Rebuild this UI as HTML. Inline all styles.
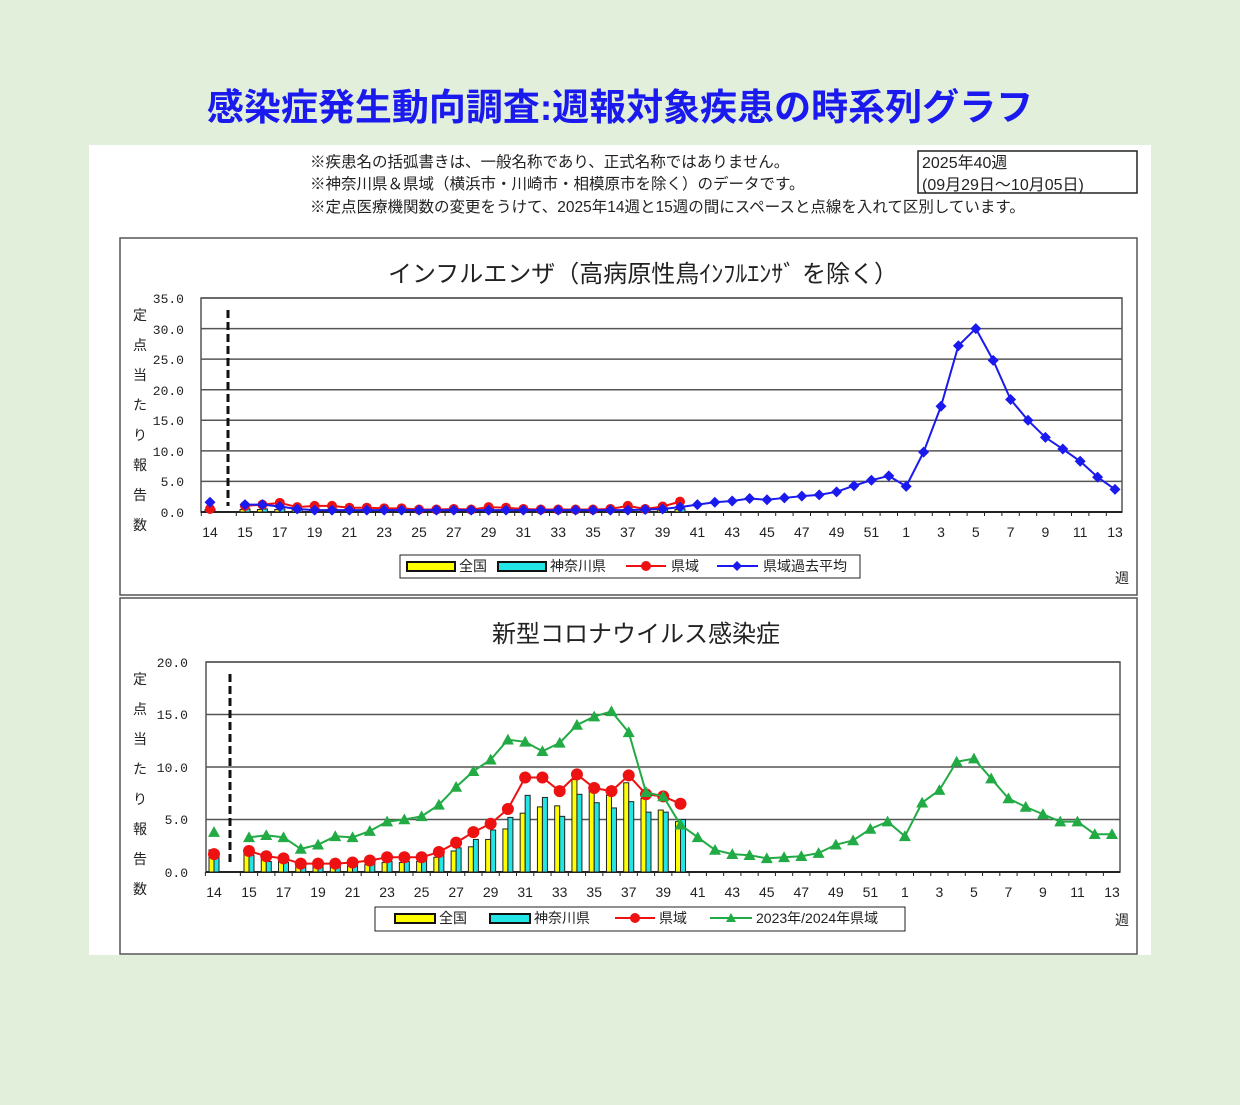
<!DOCTYPE html>
<html><head><meta charset="utf-8">
<style>
body{margin:0;width:1240px;height:1105px;background:#e2efda;font-family:"Liberation Sans","Noto Sans CJK JP",sans-serif;overflow:hidden}
svg{position:absolute;left:0;top:0}
</style></head><body>
<svg id="s" width="1240" height="1105" xmlns="http://www.w3.org/2000/svg" font-family="'Liberation Sans','Noto Sans CJK JP',sans-serif">
<text x="620" y="120" text-anchor="middle" font-size="37" font-weight="bold" fill="#1a1aee">感染症発生動向調査:週報対象疾患の時系列グラフ</text>
<rect x="89" y="145" width="1062" height="810" fill="#fff"/>
<g font-size="15.5" fill="#222">
<text x="310" y="167">※疾患名の括弧書きは、一般名称であり、正式名称ではありません。</text>
<text x="310" y="189">※神奈川県＆県域（横浜市・川崎市・相模原市を除く）のデータです。</text>
<text x="310" y="212">※定点医療機関数の変更をうけて、2025年14週と15週の間にスペースと点線を入れて区別しています。</text>
<text x="922" y="168" font-size="16">2025年40週</text>
<text x="922" y="190" font-size="16">(09月29日〜10月05日)</text>
</g>
<rect x="918" y="151" width="219" height="42" fill="none" stroke="#222" stroke-width="1.5"/>
<rect x="120" y="238" width="1017" height="357" fill="#fff" stroke="#555" stroke-width="1.5"/>
<rect x="120" y="598" width="1017" height="356" fill="#fff" stroke="#555" stroke-width="1.5"/>
<text x="643" y="282" text-anchor="middle" font-size="24" fill="#222">インフルエンザ（高病原性鳥ｲﾝﾌﾙｴﾝｻﾞ を除く）</text>
<text x="636" y="642" text-anchor="middle" font-size="24" fill="#222">新型コロナウイルス感染症</text>
<g font-size="14" fill="#222" text-anchor="middle">
<text x="140" y="320">定</text><text x="140" y="350">点</text><text x="140" y="380">当</text><text x="140" y="410">た</text><text x="140" y="440">り</text><text x="140" y="470">報</text><text x="140" y="500">告</text><text x="140" y="530">数</text>
<text x="140" y="684">定</text><text x="140" y="714">点</text><text x="140" y="744">当</text><text x="140" y="774">た</text><text x="140" y="804">り</text><text x="140" y="834">報</text><text x="140" y="864">告</text><text x="140" y="894">数</text>
<text x="1122" y="583">週</text><text x="1122" y="925">週</text>
</g>
<g font-size="13" fill="#222" text-anchor="end" font-family="'Liberation Mono',monospace">
<text x="184" y="303">35.0</text><text x="184" y="334">30.0</text><text x="184" y="364">25.0</text><text x="184" y="395">20.0</text><text x="184" y="425">15.0</text><text x="184" y="456">10.0</text><text x="184" y="486">5.0</text><text x="184" y="517">0.0</text>
<text x="188" y="667">20.0</text><text x="188" y="719">15.0</text><text x="188" y="772">10.0</text><text x="188" y="824">5.0</text><text x="188" y="877">0.0</text>
</g>
<g id="c1"></g><g id="c2"></g>
<g font-size="14" fill="#222">
<text x="459" y="571">全国</text><text x="550" y="571">神奈川県</text><text x="671" y="571">県域</text><text x="763" y="571">県域過去平均</text>
<text x="439" y="923">全国</text><text x="534" y="923">神奈川県</text><text x="659" y="923">県域</text><text x="756" y="923">2023年/2024年県域</text>
</g>
<g id="xl" font-size="14" fill="#222" text-anchor="middle"></g>
</svg>
<script>
var NS="http://www.w3.org/2000/svg";
function el(p,t,a){var e=document.createElementNS(NS,t);for(var k in a)e.setAttribute(k,a[k]);document.getElementById(p).appendChild(e);return e;}
function chart(g,L,R,T,B,max,x14,x15,dx,dash){
  var n=max/5;for(var i=0;i<n;i++){var y=T+(B-T)*i/n;el(g,'line',{x1:L,x2:R,y1:y,y2:y,stroke:'#555','stroke-width':1.5});}
  el(g,'rect',{x:L,y:T,width:R-L,height:B-T,fill:'none',stroke:'#555','stroke-width':1.5});
  el(g,'line',{x1:dash,x2:dash,y1:T+12,y2:B-6,stroke:'#111','stroke-width':3,'stroke-dasharray':'8,4'});
  el(g,'line',{x1:L,x2:R,y1:B,y2:B,stroke:'#222','stroke-width':2});
  for(var i=0;i<=51;i++){var x=(i==0?x14:x15+dx*(i-1))-dx/2;el(g,'line',{x1:x,x2:x,y1:B,y2:B+4,stroke:'#222'});}
  return {X:function(i){return i==0?x14:x15+dx*(i-1)},Y:function(v){return B-(B-T)*v/max}};
}
function weeks(){var w=[14];for(var k=15;k<=52;k++)w.push(k);for(k=1;k<=13;k++)w.push(k);return w;}
var W=weeks();
function line(g,c,X,Y,vals,col,mk,sz){
  var pts=[];vals.forEach(function(v,i){if(v==null)return;pts.push([X(i),Y(v),i]);});
  var d='';pts.forEach(function(p){if(p[2]==0)return;d+=(d?'L':'M')+p[0]+','+p[1];});
  el(g,'path',{d:d,fill:'none',stroke:col,'stroke-width':2});
  pts.forEach(function(p){var x=p[0],y=p[1];
    if(mk=='c')el(g,'circle',{cx:x,cy:y,r:sz,fill:col});
    else if(mk=='d')el(g,'polygon',{points:(x)+','+(y-sz)+' '+(x+sz)+','+y+' '+x+','+(y+sz)+' '+(x-sz)+','+y,fill:col});
    else el(g,'polygon',{points:x+','+(y-sz)+' '+(x+sz)+','+(y+sz*0.8)+' '+(x-sz)+','+(y+sz*0.8),fill:col});});
}
function bars(g,X,Y,a,b,B){a.forEach(function(v,i){var x=X(i);
  el(g,'rect',{x:x-5,y:Y(v),width:5,height:B-Y(v),fill:'#ffff00',stroke:'#222','stroke-width':1});
  el(g,'rect',{x:x,y:Y(b[i]),width:5,height:B-Y(b[i]),fill:'#22e5e5',stroke:'#222','stroke-width':1});});}
function labels(X,y){W.forEach(function(w,i){if(i==0||i%2==1){var t=document.createElementNS(NS,'text');t.setAttribute('x',X(i));t.setAttribute('y',y);t.textContent=w;document.getElementById('xl').appendChild(t);}});}
var c1=chart('c1',201,1122,298,512,35,210,245,17.4,228);
var blue=[1.6,1.2,1.2,0.9,0.5,0.3,0.3,0.3,0.3,0.3,0.3,0.3,0.3,0.3,0.3,0.3,0.3,0.3,0.3,0.3,0.3,0.3,0.3,0.3,0.4,0.5,0.8,1.2,1.6,1.8,2.2,2.0,2.3,2.6,2.8,3.3,4.3,5.2,5.9,4.2,9.8,17.3,27.2,30,24.8,18.4,15,12.2,10.3,8.3,5.7,3.7];
var red1=[0.5,1.0,1.2,1.5,0.8,1.0,1.0,0.7,0.7,0.6,0.6,0.4,0.4,0.5,0.4,0.8,0.7,0.5,0.4,0.4,0.4,0.4,0.5,1.0,0.5,0.9,1.7];
var ya=[],yb=[];for(var i=0;i<27;i++){ya.push(0.4);yb.push(0.5);}
bars('c1',c1.X,c1.Y,ya,yb,512);
line('c1',0,c1.X,c1.Y,red1,'#ee1111','c',5);
line('c1',0,c1.X,c1.Y,blue,'#1a1aee','d',5.5);
labels(c1.X,537);
var c2=chart('c2',206,1120,662,872,20,214,249,17.26,230);
var green=[3.8,3.3,3.5,3.3,2.2,2.6,3.4,3.3,3.9,4.8,5.0,5.3,6.4,8.1,9.6,10.7,12.6,12.4,11.5,12.3,14.0,14.8,15.3,13.3,7.6,7.2,4.5,3.3,2.1,1.7,1.6,1.3,1.4,1.5,1.8,2.6,3.0,4.1,4.8,3.4,6.6,7.8,10.5,10.8,8.9,7.0,6.2,5.5,4.8,4.8,3.6,3.6];
var red2=[1.7,2.0,1.5,1.3,0.8,0.8,0.8,0.9,1.1,1.4,1.4,1.4,1.9,2.8,3.8,4.6,6.0,9.0,9.0,7.7,9.3,8.0,7.7,9.2,7.4,7.2,6.5];
var A=[2.1,1.8,1.2,1.0,0.6,0.6,0.6,0.6,0.7,0.9,0.9,1.0,1.4,2.0,2.4,3.1,4.1,5.6,6.2,6.3,8.8,7.9,7.3,8.5,7.0,5.9,4.8];
var Bb=[1.5,1.6,1.0,0.9,0.5,0.5,0.6,0.6,0.8,1.0,1.0,1.1,1.7,2.3,3.1,4.0,5.2,7.3,7.1,5.3,7.4,6.6,6.1,6.7,5.7,5.7,5.0];
bars('c2',c2.X,c2.Y,A,Bb,872);
line('c2',0,c2.X,c2.Y,red2,'#ee1111','c',6);
line('c2',0,c2.X,c2.Y,green,'#22aa44','t',6);
labels(c2.X,897);
el('c1','rect',{x:400,y:555,width:460,height:23,fill:'#fff',stroke:'#222'});
el('c1','rect',{x:407,y:562,width:48,height:9,fill:'#ffff00',stroke:'#111','stroke-width':2});
el('c1','rect',{x:498,y:562,width:48,height:9,fill:'#22e5e5',stroke:'#111','stroke-width':2});
el('c1','line',{x1:626,x2:666,y1:566,y2:566,stroke:'#ee1111','stroke-width':2});el('c1','circle',{cx:646,cy:566,r:5,fill:'#ee1111'});
el('c1','line',{x1:717,x2:758,y1:566,y2:566,stroke:'#1a1aee','stroke-width':2});el('c1','polygon',{points:'737,561 742,566 737,571 732,566',fill:'#1a1aee'});
el('c2','rect',{x:375,y:907,width:530,height:24,fill:'#fff',stroke:'#222'});
el('c2','rect',{x:395,y:914,width:40,height:9,fill:'#ffff00',stroke:'#111','stroke-width':2});
el('c2','rect',{x:490,y:914,width:40,height:9,fill:'#22e5e5',stroke:'#111','stroke-width':2});
el('c2','line',{x1:615,x2:655,y1:918,y2:918,stroke:'#ee1111','stroke-width':2});el('c2','circle',{cx:635,cy:918,r:5,fill:'#ee1111'});
el('c2','line',{x1:710,x2:752,y1:918,y2:918,stroke:'#22aa44','stroke-width':2});el('c2','polygon',{points:'731,913 736,922 726,922',fill:'#22aa44'});
</script>
</body></html>
